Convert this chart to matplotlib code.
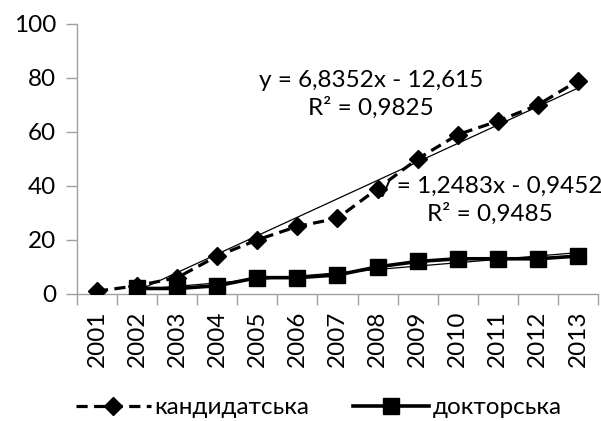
import matplotlib
matplotlib.use('Agg')
import matplotlib.pyplot as plt
import numpy as np

plt.rcParams['font.family'] = ['Lato', 'DejaVu Sans']

years = ['2001', '2002', '2003', '2004', '2005', '2006', '2007',
         '2008', '2009', '2010', '2011', '2012', '2013']
kand = [1, 3, 6, 14, 20, 25, 28, 39, 50, 59, 64, 70, 79]
dokt = [np.nan, 2, 2, 3, 6, 6, 7, 10, 12, 13, 13, 13, 14]
kand_eq = 'y = 6,8352x - 12,615\nR² = 0,9825'
dokt_eq = 'y = 1,2483x - 0,9452\nR² = 0,9485'

x = np.arange(1, len(years) + 1)
kand = np.array(kand, dtype=float)
dokt = np.array(dokt, dtype=float)

fs = 17.5
fig = plt.figure(figsize=(6.01, 4.21), dpi=100)
ax = fig.add_axes([0.128, 0.302, 0.867, 0.641])

# trend lines (linear fit, like Excel)
m = ~np.isnan(kand)
k1 = np.polyfit(x[m], kand[m], 1)
xs = x[m]
ax.plot(xs, np.polyval(k1, xs), color='black', lw=0.9, zorder=2)
m = ~np.isnan(dokt)
k2 = np.polyfit(x[m], dokt[m], 1)
xs = x[m]
ax.plot(xs, np.polyval(k2, xs), color='black', lw=0.9, zorder=2)

ax.plot(x, kand, color='black', lw=2.3, ls=(0, (3.5, 2)), marker='D',
        markersize=9.5, label='кандидатська', zorder=3)
ax.plot(x, dokt, color='black', lw=2.6, ls='-', marker='s',
        markersize=11, label='докторська', zorder=3)

ax.text(7.83, 74.0, kand_eq, ha='center', va='center', fontsize=fs, linespacing=1.3)
ax.text(10.8, 34.5, dokt_eq, ha='center', va='center', fontsize=fs, linespacing=1.3)

ax.set_xlim(0.5, 13.5)
ax.set_ylim(0, 100)
ax.set_yticks([0, 20, 40, 60, 80, 100])
ax.set_xticks(np.arange(0.5, 13.6, 1))
ax.set_xticklabels([])
ax.set_xticks(x, minor=True)
ax.set_xticklabels(years, minor=True, rotation=90)
ax.tick_params(axis='x', which='minor', length=0, pad=12, labelsize=fs)
ax.tick_params(axis='x', which='major', length=8, width=1, color='#a0a0a0', direction='out')
ax.tick_params(axis='y', length=8, width=1, color='#a0a0a0', direction='out', pad=7, labelsize=fs)

for s in ['top', 'right']:
    ax.spines[s].set_visible(False)
for s in ['left', 'bottom']:
    ax.spines[s].set_color('#a0a0a0')
    ax.spines[s].set_linewidth(1)
ax.set_clip_on(False)

fig.legend(loc='center', bbox_to_anchor=(0.53, 0.031), ncol=2, frameon=False,
           fontsize=fs, handlelength=3.1, columnspacing=1.8, handletextpad=0.15)

fig.savefig('out.png', dpi=100)
